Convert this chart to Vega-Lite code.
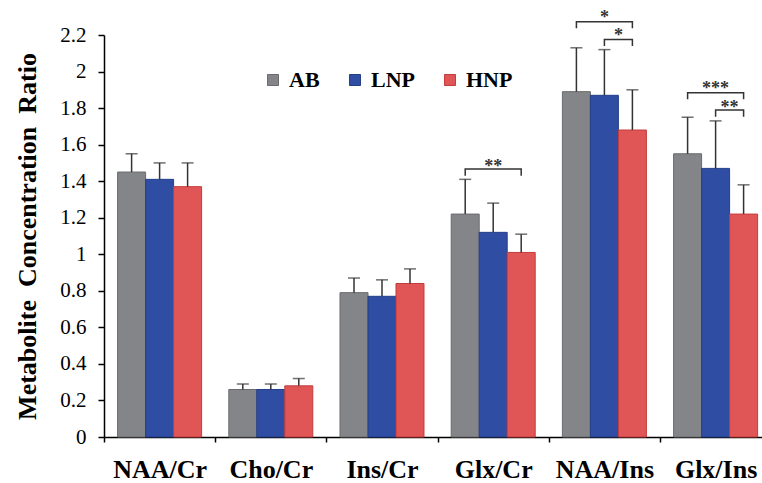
{
  "$schema": "https://vega.github.io/schema/vega-lite/v6.json",
  "width": 658,
  "height": 402,
  "autosize": {"type": "none"},
  "padding": {"left": 104, "top": 35, "right": 0, "bottom": 46},
  "background": "white",
  "config": {
    "view": {"stroke": null},
    "font": "Liberation Serif",
    "axisY": {
      "titleFont": "Liberation Serif", "titleFontWeight": "bold", "titleFontSize": 26,
      "titleColor": "black", "titlePadding": 19,
      "grid": false, "labelOverlap": false, "labelBound": false, "labelFlush": false,
      "domainColor": "black", "domainWidth": 1.5,
      "tickColor": "black", "tickWidth": 1.5, "tickSize": 6,
      "labelFont": "Liberation Serif", "labelFontSize": 21, "labelColor": "black",
      "labelPadding": 12
    },
    "axisX": {
      "labelAngle": 0, "tickBand": "extent",
      "domainColor": "black", "domainWidth": 1.5,
      "tickColor": "black", "tickWidth": 1.5, "tickSize": 5,
      "labelFont": "Liberation Serif", "labelFontWeight": "bold", "labelFontSize": 26,
      "labelColor": "black", "labelPadding": 14.5
    }
  },
  "datasets": {
    "bars": [
      {"ratio": "NAA/Cr", "group": "AB", "mean": 1.45, "hi": 1.55},
      {"ratio": "NAA/Cr", "group": "LNP", "mean": 1.41, "hi": 1.50},
      {"ratio": "NAA/Cr", "group": "HNP", "mean": 1.37, "hi": 1.50},
      {"ratio": "Cho/Cr", "group": "AB", "mean": 0.26, "hi": 0.29},
      {"ratio": "Cho/Cr", "group": "LNP", "mean": 0.26, "hi": 0.29},
      {"ratio": "Cho/Cr", "group": "HNP", "mean": 0.28, "hi": 0.32},
      {"ratio": "Ins/Cr", "group": "AB", "mean": 0.79, "hi": 0.87},
      {"ratio": "Ins/Cr", "group": "LNP", "mean": 0.77, "hi": 0.86},
      {"ratio": "Ins/Cr", "group": "HNP", "mean": 0.84, "hi": 0.92},
      {"ratio": "Glx/Cr", "group": "AB", "mean": 1.22, "hi": 1.41},
      {"ratio": "Glx/Cr", "group": "LNP", "mean": 1.12, "hi": 1.28},
      {"ratio": "Glx/Cr", "group": "HNP", "mean": 1.01, "hi": 1.11},
      {"ratio": "NAA/Ins", "group": "AB", "mean": 1.89, "hi": 2.13},
      {"ratio": "NAA/Ins", "group": "LNP", "mean": 1.87, "hi": 2.12},
      {"ratio": "NAA/Ins", "group": "HNP", "mean": 1.68, "hi": 1.90},
      {"ratio": "Glx/Ins", "group": "AB", "mean": 1.55, "hi": 1.75},
      {"ratio": "Glx/Ins", "group": "LNP", "mean": 1.47, "hi": 1.73},
      {"ratio": "Glx/Ins", "group": "HNP", "mean": 1.22, "hi": 1.38}
    ],
    "brackets": [
      {"bid": "b1", "ratio": "Glx/Cr", "group": "AB", "v": 1.43, "ord": 1},
      {"bid": "b1", "ratio": "Glx/Cr", "group": "AB", "v": 1.466, "ord": 2},
      {"bid": "b1", "ratio": "Glx/Cr", "group": "HNP", "v": 1.466, "ord": 3},
      {"bid": "b1", "ratio": "Glx/Cr", "group": "HNP", "v": 1.43, "ord": 4},
      {"bid": "b2", "ratio": "NAA/Ins", "group": "AB", "v": 2.237, "ord": 1},
      {"bid": "b2", "ratio": "NAA/Ins", "group": "AB", "v": 2.273, "ord": 2},
      {"bid": "b2", "ratio": "NAA/Ins", "group": "HNP", "v": 2.273, "ord": 3},
      {"bid": "b2", "ratio": "NAA/Ins", "group": "HNP", "v": 2.237, "ord": 4},
      {"bid": "b3", "ratio": "NAA/Ins", "group": "LNP", "v": 2.14, "ord": 1},
      {"bid": "b3", "ratio": "NAA/Ins", "group": "LNP", "v": 2.176, "ord": 2},
      {"bid": "b3", "ratio": "NAA/Ins", "group": "HNP", "v": 2.176, "ord": 3},
      {"bid": "b3", "ratio": "NAA/Ins", "group": "HNP", "v": 2.14, "ord": 4},
      {"bid": "b4", "ratio": "Glx/Ins", "group": "AB", "v": 1.848, "ord": 1},
      {"bid": "b4", "ratio": "Glx/Ins", "group": "AB", "v": 1.884, "ord": 2},
      {"bid": "b4", "ratio": "Glx/Ins", "group": "HNP", "v": 1.884, "ord": 3},
      {"bid": "b4", "ratio": "Glx/Ins", "group": "HNP", "v": 1.848, "ord": 4},
      {"bid": "b5", "ratio": "Glx/Ins", "group": "LNP", "v": 1.753, "ord": 1},
      {"bid": "b5", "ratio": "Glx/Ins", "group": "LNP", "v": 1.789, "ord": 2},
      {"bid": "b5", "ratio": "Glx/Ins", "group": "HNP", "v": 1.789, "ord": 3},
      {"bid": "b5", "ratio": "Glx/Ins", "group": "HNP", "v": 1.753, "ord": 4}
    ],
    "stars": [
      {"ratio": "Glx/Cr", "group": "LNP", "v": 1.504, "label": "**", "shift": 0},
      {"ratio": "NAA/Ins", "group": "LNP", "v": 2.32, "label": "*", "shift": 0},
      {"ratio": "NAA/Ins", "group": "LNP", "v": 2.22, "label": "*", "shift": 1},
      {"ratio": "Glx/Ins", "group": "LNP", "v": 1.93, "label": "***", "shift": 0},
      {"ratio": "Glx/Ins", "group": "LNP", "v": 1.83, "label": "**", "shift": 1}
    ]
  },
  "layer": [
    {
      "data": {"name": "bars"},
      "mark": {"type": "bar", "strokeWidth": 1},
      "encoding": {
        "x": {
          "field": "ratio", "type": "nominal",
          "sort": ["NAA/Cr", "Cho/Cr", "Ins/Cr", "Glx/Cr", "NAA/Ins", "Glx/Ins"],
          "scale": {"range": [0, 667.2], "paddingInner": 0, "paddingOuter": 0},
          "axis": {"title": null}
        },
        "xOffset": {
          "field": "group", "type": "nominal", "sort": ["AB", "LNP", "HNP"],
          "scale": {"paddingInner": 0, "paddingOuter": 0.486}
        },
        "y": {
          "field": "mean", "type": "quantitative",
          "scale": {"domain": [0, 2.2], "nice": false},
          "axis": {"title": "Metabolite\u00a0 Concentration\u00a0 Ratio", "values": [0, 0.2, 0.4, 0.6, 0.8, 1, 1.2, 1.4, 1.6, 1.8, 2, 2.2], "format": "~g"}
        },
        "fill": {
          "field": "group", "type": "nominal", "sort": ["AB", "LNP", "HNP"],
          "scale": {"domain": ["AB", "LNP", "HNP"], "range": ["#848588", "#2f4ea3", "#e05555"]},
          "legend": {
            "title": null, "orient": "none", "direction": "horizontal",
            "legendX": 158, "legendY": 34,
            "symbolType": "square", "symbolSize": 121, "symbolStrokeWidth": 1,
            "labelFont": "Liberation Serif", "labelFontWeight": "bold", "labelFontSize": 22,
            "labelColor": "black", "labelOffset": 5, "columnPadding": 24
          }
        },
        "stroke": {
          "field": "group", "type": "nominal", "sort": ["AB", "LNP", "HNP"],
          "scale": {"domain": ["AB", "LNP", "HNP"], "range": ["#6a6b6e", "#243f88", "#c43c3c"]},
          "legend": {
            "title": null, "orient": "none", "direction": "horizontal",
            "legendX": 158, "legendY": 34,
            "symbolType": "square", "symbolSize": 121, "symbolStrokeWidth": 1,
            "labelFont": "Liberation Serif", "labelFontWeight": "bold", "labelFontSize": 22,
            "labelColor": "black", "labelOffset": 5, "columnPadding": 24
          }
        }
      }
    },
    {
      "data": {"name": "bars"},
      "mark": {"type": "rule", "color": "#333333", "strokeWidth": 1.5},
      "encoding": {
        "x": {"field": "ratio", "type": "nominal", "sort": ["NAA/Cr", "Cho/Cr", "Ins/Cr", "Glx/Cr", "NAA/Ins", "Glx/Ins"], "axis": {"title": null}},
        "xOffset": {"field": "group", "type": "nominal", "sort": ["AB", "LNP", "HNP"]},
        "y": {"field": "mean", "type": "quantitative", "axis": {"title": "Metabolite\u00a0 Concentration\u00a0 Ratio", "values": [0, 0.2, 0.4, 0.6, 0.8, 1, 1.2, 1.4, 1.6, 1.8, 2, 2.2], "format": "~g"}},
        "y2": {"field": "hi"}
      }
    },
    {
      "data": {"name": "bars"},
      "mark": {"type": "tick", "orient": "horizontal", "color": "#333333", "size": 12, "thickness": 1.5},
      "encoding": {
        "x": {"field": "ratio", "type": "nominal", "sort": ["NAA/Cr", "Cho/Cr", "Ins/Cr", "Glx/Cr", "NAA/Ins", "Glx/Ins"], "axis": {"title": null}},
        "xOffset": {"field": "group", "type": "nominal", "sort": ["AB", "LNP", "HNP"]},
        "y": {"field": "hi", "type": "quantitative", "axis": {"title": "Metabolite\u00a0 Concentration\u00a0 Ratio", "values": [0, 0.2, 0.4, 0.6, 0.8, 1, 1.2, 1.4, 1.6, 1.8, 2, 2.2], "format": "~g"}}
      }
    },
    {
      "data": {"name": "brackets"},
      "mark": {"type": "line", "color": "#333333", "strokeWidth": 1.5},
      "encoding": {
        "x": {"field": "ratio", "type": "nominal", "sort": ["NAA/Cr", "Cho/Cr", "Ins/Cr", "Glx/Cr", "NAA/Ins", "Glx/Ins"], "axis": {"title": null}},
        "xOffset": {"field": "group", "type": "nominal", "sort": ["AB", "LNP", "HNP"]},
        "y": {"field": "v", "type": "quantitative", "axis": {"title": "Metabolite\u00a0 Concentration\u00a0 Ratio", "values": [0, 0.2, 0.4, 0.6, 0.8, 1, 1.2, 1.4, 1.6, 1.8, 2, 2.2], "format": "~g"}},
        "detail": {"field": "bid"},
        "order": {"field": "ord"}
      }
    },
    {
      "data": {"name": "stars"},
      "transform": [{"filter": "datum.shift == 0"}],
      "mark": {"type": "text", "font": "Liberation Serif", "fontWeight": "bold", "fontSize": 18, "color": "#333333", "baseline": "middle", "dy": 5},
      "encoding": {
        "x": {"field": "ratio", "type": "nominal", "sort": ["NAA/Cr", "Cho/Cr", "Ins/Cr", "Glx/Cr", "NAA/Ins", "Glx/Ins"], "axis": {"title": null}},
        "xOffset": {"field": "group", "type": "nominal", "sort": ["AB", "LNP", "HNP"]},
        "y": {"field": "v", "type": "quantitative", "axis": {"title": "Metabolite\u00a0 Concentration\u00a0 Ratio", "values": [0, 0.2, 0.4, 0.6, 0.8, 1, 1.2, 1.4, 1.6, 1.8, 2, 2.2], "format": "~g"}},
        "text": {"field": "label"}
      }
    },
    {
      "data": {"name": "stars"},
      "transform": [{"filter": "datum.shift == 1"}],
      "mark": {"type": "text", "font": "Liberation Serif", "fontWeight": "bold", "fontSize": 18, "color": "#333333", "baseline": "middle", "dy": 5, "dx": 14},
      "encoding": {
        "x": {"field": "ratio", "type": "nominal", "sort": ["NAA/Cr", "Cho/Cr", "Ins/Cr", "Glx/Cr", "NAA/Ins", "Glx/Ins"], "axis": {"title": null}},
        "xOffset": {"field": "group", "type": "nominal", "sort": ["AB", "LNP", "HNP"]},
        "y": {"field": "v", "type": "quantitative", "axis": {"title": "Metabolite\u00a0 Concentration\u00a0 Ratio", "values": [0, 0.2, 0.4, 0.6, 0.8, 1, 1.2, 1.4, 1.6, 1.8, 2, 2.2], "format": "~g"}},
        "text": {"field": "label"}
      }
    }
  ]
}
